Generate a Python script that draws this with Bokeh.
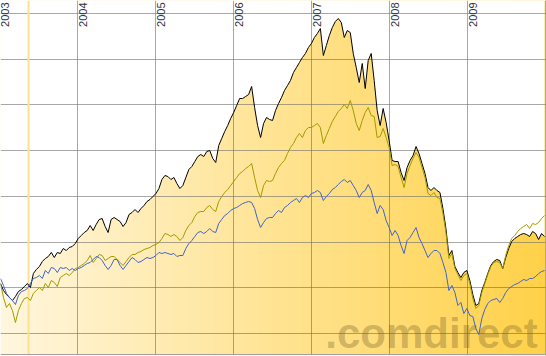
import numpy as np
import pandas as pd
from bokeh.plotting import figure
from bokeh.models import Range1d, Span, FixedTicker
from bokeh.embed import file_html
from bokeh.resources import INLINE
from bokeh.core.properties import value

# ---------------- data (biweekly samples, index units) ----------------
dates = pd.date_range("2003-01-05", periods=183, freq="14D")

black = [50, 43, 39, 36, 33, 37, 42, 44, 47, 50, 46, 60, 64, 67, 72, 75, 77, 81, 76, 81,
         80, 85, 83, 86, 87, 90, 95, 98, 101, 103, 108, 103, 109, 114, 115, 107, 101, 114, 116, 114,
         112, 107, 111, 119, 121, 124, 121, 125, 128, 132, 134, 137, 140, 145, 154, 158, 157, 154, 156, 150,
         145, 148, 156, 164, 167, 172, 177, 179, 177, 182, 183, 175, 171, 188, 195, 202, 208, 215, 221, 228,
         235, 235, 237, 239, 247, 226, 208, 196, 210, 216, 214, 213, 223, 230, 236, 243, 248, 253, 261, 266,
         271, 276, 280, 286, 290, 296, 300, 305, 278, 288, 298, 306, 312, 315, 311, 296, 303, 301, 280, 266,
         251, 270, 245, 273, 280, 253, 223, 208, 225, 211, 193, 173, 172, 172, 161, 153, 166, 173, 178, 187,
         180, 170, 160, 146, 143, 146, 143, 141, 125, 105, 78, 83, 67, 61, 56, 61, 63, 53, 39, 28,
         30, 43, 51, 60, 68, 72, 74, 73, 65, 76, 85, 92, 95, 97, 99, 100, 99, 97, 102, 100,
         94, 100, 97]

olive = [50, 36, 26, 30, 23, 11, 23, 30, 35, 36, 33, 40, 43, 46, 43, 50, 46, 53, 51, 47,
         56, 58, 60, 58, 61, 65, 66, 68, 70, 73, 78, 71, 75, 79, 78, 73, 75, 77, 77, 74,
         71, 68, 72, 76, 79, 79, 81, 82, 84, 85, 86, 88, 89, 91, 95, 100, 99, 97, 99, 97,
         93, 96, 103, 108, 111, 117, 121, 122, 122, 126, 128, 124, 122, 132, 137, 141, 144, 148, 152, 156,
         160, 162, 165, 167, 170, 156, 143, 136, 148, 153, 152, 153, 160, 166, 170, 173, 180, 186, 190, 196,
         200, 196, 203, 206, 206, 208, 210, 206, 190, 198, 205, 212, 217, 222, 225, 229, 225, 233, 223, 210,
         203, 213, 221, 226, 218, 217, 196, 197, 205, 196, 186, 168, 169, 167, 156, 146, 160, 168, 175, 181,
         176, 166, 156, 140, 138, 141, 136, 135, 120, 101, 75, 80, 65, 59, 53, 58, 60, 50, 35, 25,
         28, 41, 50, 59, 67, 71, 72, 71, 65, 78, 88, 95, 98, 102, 105, 107, 109, 105, 110, 109,
         111, 115, 118]

blue = [55, 48, 40, 36, 33, 29, 38, 42, 43, 45, 50, 55, 56, 58, 55, 63, 60, 66, 65, 61,
        66, 65, 66, 63, 65, 63, 65, 66, 68, 70, 71, 74, 77, 76, 73, 68, 64, 68, 74, 74,
        68, 64, 68, 72, 76, 74, 71, 72, 74, 76, 75, 76, 78, 81, 80, 81, 80, 79, 80, 77,
        78, 78, 85, 90, 93, 97, 101, 102, 100, 102, 105, 102, 101, 110, 114, 118, 120, 123, 125, 126,
        128, 130, 131, 132, 131, 125, 114, 106, 111, 115, 116, 116, 120, 123, 121, 126, 128, 131, 133, 135,
        131, 136, 138, 136, 140, 141, 143, 141, 133, 137, 140, 144, 146, 149, 152, 154, 151, 153, 148, 143,
        136, 141, 143, 149, 143, 131, 120, 128, 124, 113, 106, 98, 103, 98, 88, 80, 93, 96, 101, 106,
        96, 90, 83, 76, 80, 83, 83, 80, 71, 61, 43, 48, 41, 28, 31, 20, 25, 18, 17, 5,
        -1, 15, 24, 30, 33, 34, 35, 31, 35, 41, 45, 47, 49, 50, 52, 54, 53, 55, 55, 57,
        60, 62, 63]

year_labels = ["2003", "2004", "2005", "2006", "2007", "2008", "2009"]
year_starts = pd.to_datetime([f"{y}-01-01" for y in year_labels])
marker_date = pd.Timestamp("2003-05-16")
watermark = [".comdirect"]

# ---------------- figure ----------------
X0, X1 = pd.Timestamp("2003-01-05"), pd.Timestamp("2010-01-05")
Y0, Y1 = -22, 333
GRID_STEP = 320 / 7

p = figure(width=546, height=356, x_axis_type="datetime",
           x_range=Range1d(X0, X1), y_range=Range1d(Y0, Y1),
           output_backend="svg", toolbar_location=None,
           min_border_left=0, min_border_right=0, min_border_top=0, min_border_bottom=1)
p.xaxis.visible = False
p.yaxis.visible = False
p.outline_line_color = None
p.background_fill_color = "white"
p.border_fill_color = "white"

# gradient background (style) under the black series
W = 546
t = np.linspace(0.0, 1.0, W)
img = np.zeros((1, W), dtype=np.uint32)
view = img.view(dtype=np.uint8).reshape((1, W, 4))
view[0, :, 0] = 255
view[0, :, 1] = np.round(246 - (246 - 209) * t).astype(np.uint8)
view[0, :, 2] = np.round(222 - (222 - 72) * t).astype(np.uint8)
view[0, :, 3] = 255
x0_ms = X0.value / 1e6
dw_ms = (X1 - X0).total_seconds() * 1000
p.image_rgba(image=[img], x=x0_ms, y=Y0, dw=dw_ms, dh=Y1 - Y0, level="image")
# white mask above the black series
p.varea(x=dates, y1=black, y2=[Y1] * len(dates), fill_color="white", level="image")

# grid
p.xgrid.ticker = FixedTicker(ticks=[d.value / 1e6 for d in year_starts])
p.ygrid.ticker = FixedTicker(ticks=[k * GRID_STEP for k in range(8)])
for g in (p.xgrid, p.ygrid):
    g.grid_line_color = "#6e6e6e"
    g.grid_line_alpha = 0.6
    g.grid_line_width = 1

# yellow marker line
p.add_layout(Span(location=marker_date.value / 1e6, dimension="height",
                  line_color="#FFE08C", line_width=2, level="underlay"))
# border lines right / bottom
p.add_layout(Span(location=pd.Timestamp("2010-01-01").value / 1e6, dimension="height",
                  line_color="#a0a0a0", line_width=1))
p.add_layout(Span(location=-21, dimension="width", line_color="#a0a0a0", line_width=1))

# watermark (behind the lines)
p.text(x=[pd.Timestamp("2007-03-06")], y=[0], text=watermark,
       text_font=value("Liberation Sans"), text_font_size="42px", text_font_style="bold",
       text_color="#6e5a28", text_alpha=0.33, text_baseline="alphabetic", text_align="left")

# series
p.line(dates, black, line_color="#000000", line_width=1)
p.line(dates, olive, line_color="#A09B00", line_width=1)
p.line(dates, blue, line_color="#4064C8", line_width=1)

# year labels
p.text(x=year_starts, y=[Y1] * len(year_labels), text=year_labels, angle=np.pi / 2,
       text_align="right", text_baseline="top", x_offset=1, y_offset=2,
       text_font=value("Liberation Sans"), text_font_size="11px", text_color="#333333")

open("out.html", "w").write(file_html(p, INLINE))
